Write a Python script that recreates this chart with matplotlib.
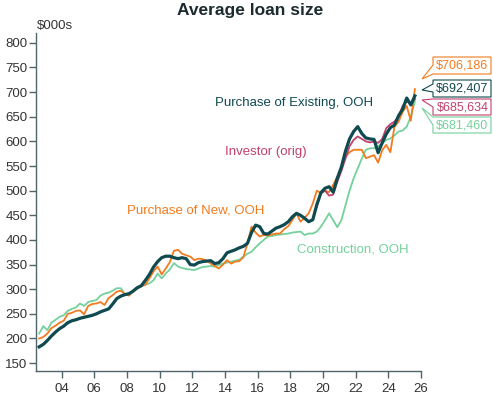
import matplotlib
matplotlib.use("Agg")
import matplotlib.pyplot as plt
from matplotlib.patches import Polygon
import numpy as np
import pandas as pd

plt.rcParams['font.family'] = ['Liberation Sans', 'DejaVu Sans']

# Quarterly, 2002Q3 .. 2025Q3
quarters = pd.period_range('2002Q3', '2025Q3', freq='Q')

existing = [183, 188,
            196, 205, 213, 220,
            225, 232, 236, 238,
            241, 243, 245, 247,
            250, 254, 257, 260,
            270, 281, 286, 289,
            291, 296, 303, 307,
            318, 330, 345, 356,
            364, 367, 367, 364,
            362, 364, 362, 350,
            349, 354, 356, 357,
            358, 352, 354, 362,
            374, 377, 380, 384,
            387, 393, 415, 430,
            427, 413, 412, 418,
            424, 427, 431, 437,
            447, 454, 450, 444,
            437, 441, 472, 496,
            505, 508, 497, 525,
            548, 580, 605, 620,
            630, 616, 607, 605,
            604, 577, 597, 615,
            628, 633, 652, 665,
            688, 674, 692.407]

new_ooh = [200, 203,
           210, 221, 226, 232,
           236, 250, 252, 256,
           257, 249, 266, 270,
           271, 274, 268, 282,
           288, 295, 297, 290,
           287, 296, 301, 306,
           309, 322, 336, 346,
           330, 342, 355, 378,
           380, 372, 369, 366,
           359, 362, 361, 358,
           352, 347, 342, 350,
           359, 352, 356, 357,
           365, 393, 427, 415,
           407, 410, 409, 411,
           413, 413, 422, 428,
           440, 454, 437, 445,
           454, 474, 500, 495,
           500, 497, 512, 528,
           545, 569, 578, 583,
           583, 583, 566, 569,
           572, 557, 582, 593,
           578, 630, 640, 660,
           672, 642, 706.186]

construction = [210, 225,
                217, 232, 238, 244,
                247, 256, 260, 263,
                271, 266, 274, 276,
                278, 287, 291, 293,
                297, 302, 302, 290,
                288, 298, 304, 307,
                309, 312, 318, 332,
                322, 332, 340, 353,
                346, 343, 341, 340,
                339, 342, 345, 346,
                347, 346, 349, 352,
                354, 356, 358, 360,
                366, 372, 376, 385,
                393, 400, 407, 408,
                410, 411, 412, 413,
                415, 416, 417, 410,
                413, 413, 417, 427,
                440, 454, 440, 426,
                440, 470, 500, 525,
                545, 565, 583, 586,
                586, 590, 596, 603,
                606, 612, 620, 622,
                630, 650, 681.460]

# Investor (orig) starts 2019Q3
investor_start = '2019Q3'
investor = [468, 495,
            500, 490, 492, 518,
            540, 565, 590, 603,
            610, 605, 600, 598,
            600, 597, 605, 627,
            635, 640, 650, 672,
            681, 677, 685.634]

end_labels = ['$706,186', '$692,407', '$685,634', '$681,460']

x_all = np.array([p.year + (p.quarter - 0.5) / 4 for p in quarters])
inv_idx = list(quarters).index(pd.Period(investor_start, freq='Q'))
x_inv = x_all[inv_idx:]

C_DARK = '#0f4a50'
C_ORANGE = '#f27b1f'
C_GREEN = '#74d19b'
C_PINK = '#c2416b'
C_AXIS = '#50646a'
C_TEXT = '#333333'

W, H = 493, 395
fig = plt.figure(figsize=(W / 100, H / 100), dpi=100)
ax = fig.add_axes([36 / W, 1 - 371 / H, (421 - 36) / W, (371 - 33) / H])

ax.plot(x_all, construction, color=C_GREEN, lw=1.3, solid_joinstyle='round')
ax.plot(x_all, new_ooh, color=C_ORANGE, lw=1.3, solid_joinstyle='round')
ax.plot(x_inv, investor, color=C_PINK, lw=1.3, solid_joinstyle='round')
ax.plot(x_all, existing, color=C_DARK, lw=2.3, solid_joinstyle='round')

ax.set_xlim(2002.43, 2026.0)
ax.set_ylim(134, 820)
xt = np.arange(2004, 2027, 2)
ax.set_xticks(xt)
ax.set_xticklabels([f'{t % 100:02d}' for t in xt])
ax.set_yticks(np.arange(150, 801, 50))

for s in ['top', 'right']:
    ax.spines[s].set_visible(False)
for s in ['left', 'bottom']:
    ax.spines[s].set_color(C_AXIS)
    ax.spines[s].set_linewidth(1.0)
ax.tick_params(axis='both', colors=C_AXIS, labelcolor=C_TEXT, labelsize=9.5,
               length=5, width=1.0, direction='out')
ax.tick_params(axis='y', pad=1)
ax.tick_params(axis='x', pad=4)

fig.text(250 / W, 1 - 10 / H, 'Average loan size', ha='center', va='center',
         fontsize=12.5, fontweight='bold', color='#1c2b2e')
fig.text(37 / W, 1 - 26 / H, '$000s', ha='left', va='center', fontsize=9.5,
         color=C_TEXT)

# series labels
ax.annotate('Purchase of Existing, OOH', xy=(215 / W, 1 - 103 / H),
            xycoords='figure fraction', ha='left', va='center',
            fontsize=9.5, color=C_DARK)
ax.annotate('Investor (orig)', xy=(225 / W, 1 - 152 / H),
            xycoords='figure fraction', ha='left', va='center',
            fontsize=9.5, color=C_PINK)
ax.annotate('Purchase of New, OOH', xy=(127 / W, 1 - 211 / H),
            xycoords='figure fraction', ha='left', va='center',
            fontsize=9.5, color=C_ORANGE)
ax.annotate('Construction, OOH', xy=(297 / W, 1 - 249 / H),
            xycoords='figure fraction', ha='left', va='center',
            fontsize=9.5, color=C_GREEN)

# callout boxes (pixel layout, top-based)
def fx(px):
    return px / W

def fy(py):
    return 1 - py / H

callouts = [
    (C_ORANGE, 57, 74, 65, 74, 79),
    (C_DARK, 80, 97, 84, 92, 90),
    (C_PINK, 99, 115, 99, 107, 100),
    (C_GREEN, 117, 133, 117, 125, 108),
]
L, R, TIPX = 433, 491, 422
for (col, T, B, y1, y2, tipy), lab in zip(callouts, end_labels):
    pts = [(R, T), (L, T), (L, y1), (TIPX, tipy), (L, y2), (L, B), (R, B)]
    poly = Polygon([(fx(a), fy(b)) for a, b in pts], closed=True,
                   transform=fig.transFigure, facecolor='white',
                   edgecolor=col, lw=0.8, alpha=1, zorder=5)
    fig.patches.append(poly)
    fig.text(fx((L + R) / 2 + 0.5), fy((T + B) / 2), lab, ha='center',
             va='center', fontsize=9, color=col, zorder=6)

fig.savefig('out.png', dpi=100)
